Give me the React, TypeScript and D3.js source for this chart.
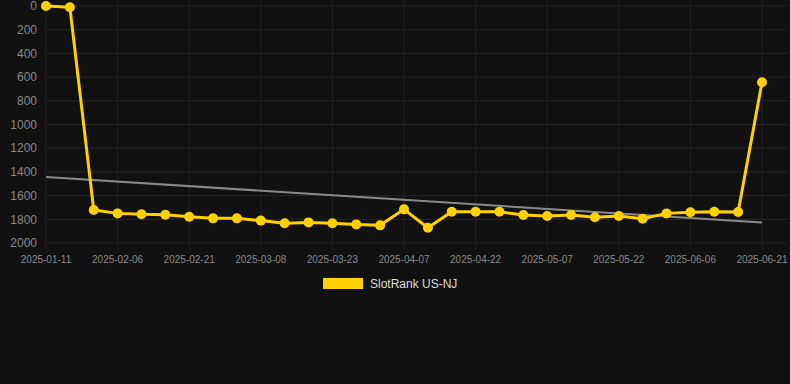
import React from "react";
import * as d3 from "d3";

const dates = [
  "2025-01-11", "2025-01-24", "2025-02-01", "2025-02-06", "2025-02-11", "2025-02-16",
  "2025-02-21", "2025-02-26", "2025-03-03", "2025-03-08", "2025-03-13", "2025-03-18",
  "2025-03-23", "2025-03-28", "2025-04-02", "2025-04-07", "2025-04-12", "2025-04-17",
  "2025-04-22", "2025-04-27", "2025-05-02", "2025-05-07", "2025-05-12", "2025-05-17",
  "2025-05-22", "2025-05-27", "2025-06-01", "2025-06-06", "2025-06-11", "2025-06-16",
  "2025-06-21",
];
const ranks = [
  0, 10, 1721, 1750, 1758, 1761, 1778, 1792, 1792, 1811, 1834, 1826, 1834, 1843, 1851,
  1716, 1871, 1736, 1736, 1736, 1764, 1772, 1764, 1783, 1772, 1795, 1750, 1741, 1736,
  1738, 644,
];
const trendEnds = [1443, 1828];
const yTicks = [0, 200, 400, 600, 800, 1000, 1200, 1400, 1600, 1800, 2000];
const seriesName = "SlotRank US-NJ";

const W = 790;
const H = 384;
const left = 46;
const right = 762;
const top = 6;
const bottom = 243;
const gold = "#FFD100";

export default function App() {
  const x = d3.scalePoint<number>().domain(d3.range(dates.length)).range([left, right]);
  const y = d3.scaleLinear().domain([0, 2000]).range([top, bottom]);
  const line = d3
    .line<number>()
    .x((_, i) => x(i) as number)
    .y((d) => y(d));
  const labelIdx = d3.range(0, dates.length, 3);
  const font = "Arial, 'Liberation Sans', Helvetica, sans-serif";
  return (
    <svg
      width={W}
      height={H}
      style={{ position: "absolute", left: 0, top: 0, background: "#111111" }}
      fontFamily={font}
    >
      <rect x={0} y={0} width={W} height={H} fill="#111111" />
      {yTicks.map((t) => (
        <g key={t}>
          <line x1={left} x2={W - 3} y1={y(t)} y2={y(t)} stroke="#262626" strokeWidth={1} />
          <text x={37} y={y(t)} dy="0.35em" textAnchor="end" fontSize={12} fill="#8a8a8a">
            {t}
          </text>
        </g>
      ))}
      {labelIdx.map((i) => (
        <g key={i}>
          <line
            x1={x(i)}
            x2={x(i)}
            y1={top - 6}
            y2={bottom + 7}
            stroke="#222222"
            strokeWidth={1}
          />
          <text x={x(i)} y={259} dy="0.35em" textAnchor="middle" fontSize={10} fill="#8a8a8a">
            {dates[i]}
          </text>
        </g>
      ))}
      <line
        x1={x(0)}
        x2={x(dates.length - 1)}
        y1={y(trendEnds[0])}
        y2={y(trendEnds[1])}
        stroke="#8a8a8a"
        strokeWidth={2}
      />
      <path d={line(ranks) || ""} fill="none" stroke={gold} strokeWidth={3} strokeLinejoin="round" />
      {ranks.map((v, i) => (
        <circle key={i} cx={x(i)} cy={y(v)} r={5} fill={gold} />
      ))}
      <rect x={323} y={278} width={40} height={11} fill={gold} />
      <text x={370} y={284} dy="0.35em" fontSize={12} fill="#dddddd">
        {seriesName}
      </text>
    </svg>
  );
}
